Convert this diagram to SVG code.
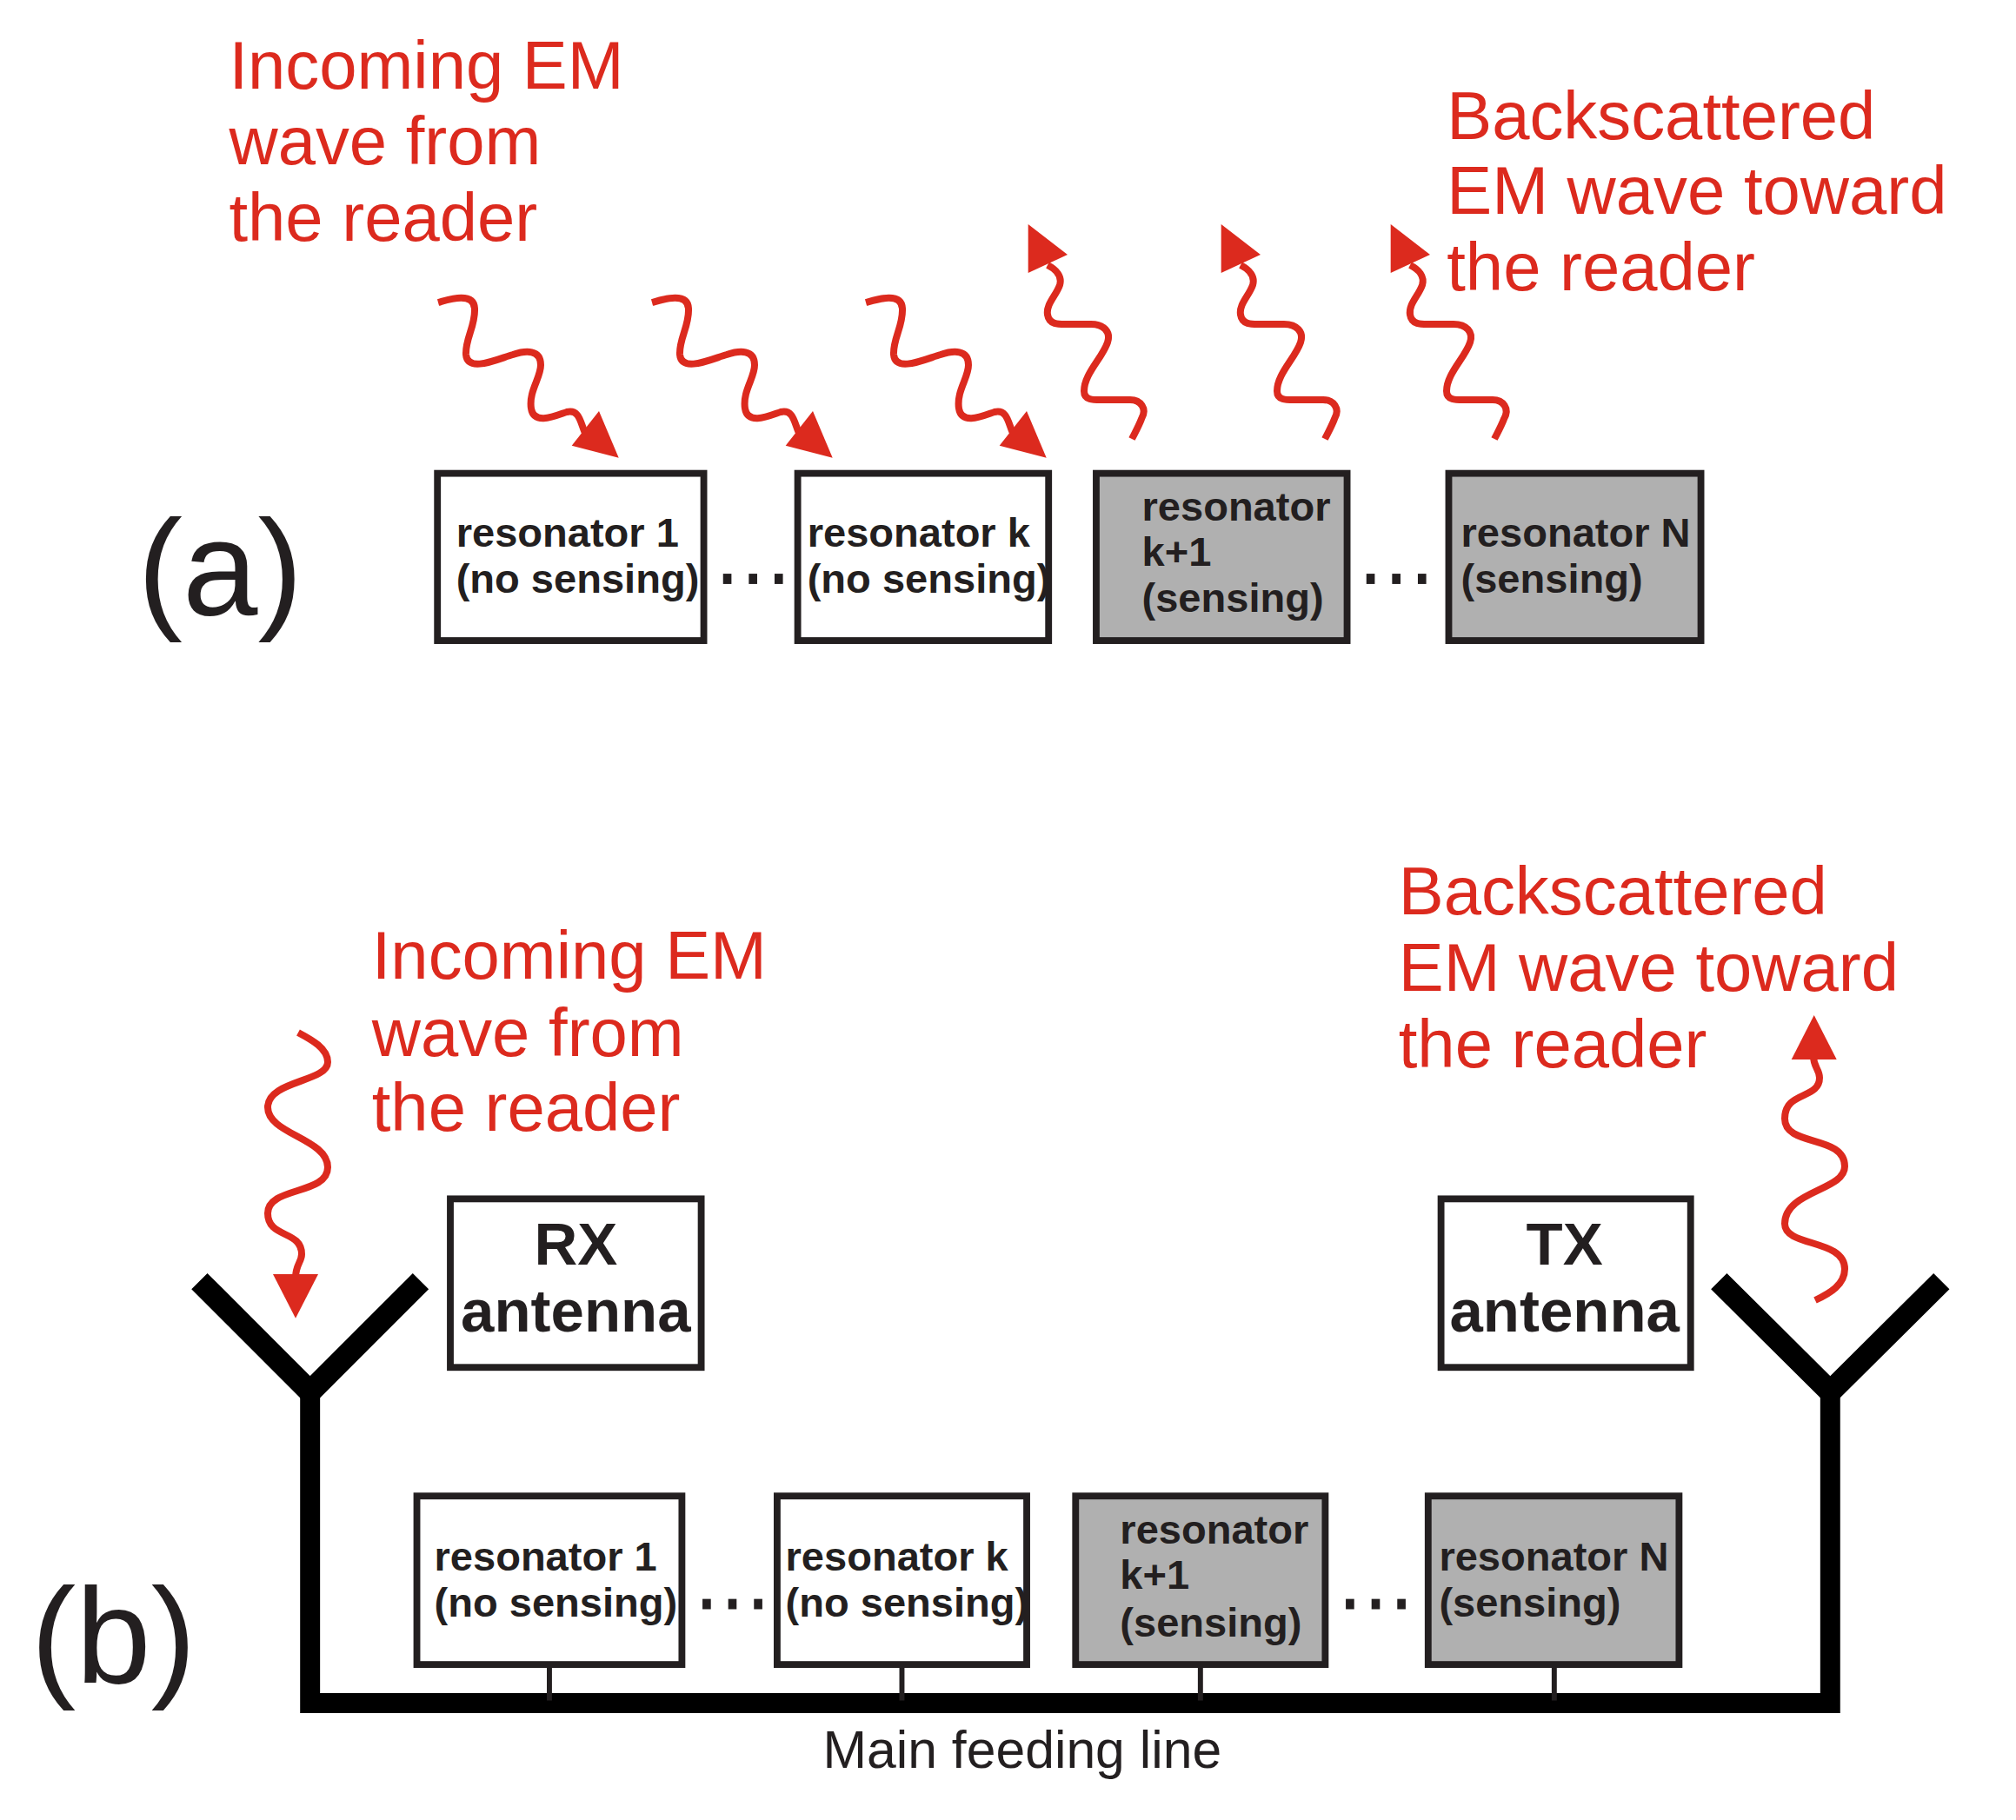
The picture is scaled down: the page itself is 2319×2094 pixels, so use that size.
<svg xmlns="http://www.w3.org/2000/svg" width="2319" height="2094" viewBox="0 0 2319 2094">
<style>
text{font-family:"Liberation Sans",Arial,sans-serif;fill:#231f20}
.red{fill:#dc2a1e;font-size:52.6px}
.r{font-weight:bold;font-size:31.8px}
.c{font-weight:bold;font-size:46.6px;text-anchor:middle}
.big{font-size:105px}
.w{fill:#fff;stroke:#231f20;stroke-width:5.3}
.g{fill:#b0b0b0;stroke:#231f20;stroke-width:5.3}
.wave{fill:none;stroke:#dc2a1e;stroke-width:8}
.head{fill:#dc2a1e;stroke:none}
.ant{fill:none;stroke:#000;stroke-width:15.5}
.arm{fill:none;stroke:#000;stroke-width:17.5}
.stub{stroke:#231f20;stroke-width:4}
.dot{fill:#231f20}
</style>
<defs>
<g id="in"><path class="wave" d="M504 348C515 345 545 335 546 355C547 375 535 390 536 408C538 430 575 412 590 408C605 403 622 402 622 420C622 435 608 450 611 470C614 490 640 478 652 474C668 470 668 490 674 500"/><polygon class="head" points="689,473 711.7,526.7 657.7,512.7"/></g>
<g id="out"><path class="wave" d="M1205 305C1215 310 1222 318 1219 328C1215 340 1203 350 1205 362C1207 375 1220 373 1232 373L1255 373C1270 373 1278 382 1274 394C1268 412 1247 430 1247 450C1247 462 1260 460 1275 460L1300 460C1312 460 1320 470 1313 482C1310 490 1306 497 1302 505"/><polygon class="head" points="1182.7,258 1228,293 1182.7,314"/></g>
<g id="dots"><rect class="dot" x="0" y="0" width="6.5" height="8"/><rect class="dot" x="20" y="0" width="6.5" height="8"/><rect class="dot" x="40" y="0" width="6.5" height="8"/></g>
</defs>
<rect width="2319" height="2094" fill="#fff"/>
<g id="connectors">
<use href="#in"/><use href="#in" x="246"/><use href="#in" x="492"/>
<use href="#out"/><use href="#out" x="222"/><use href="#out" x="417"/>
<path class="wave" d="M343 1188C358 1196 377 1206 377 1222C377 1245 308 1243 308 1274C308 1305 377 1310 377 1343C377 1375 308 1365 308 1396C308 1425 347 1415 347 1443C347 1452 340 1455 340 1470"/>
<polygon class="head" points="314,1466 366,1466 340,1516.7"/>
<path class="wave" d="M2088 1496C2105 1488 2122 1478 2122 1460C2122 1425 2053 1435 2053 1408C2053 1370 2122 1370 2122 1342C2122 1305 2053 1320 2053 1287C2053 1255 2093 1265 2093 1240C2093 1230 2086 1228 2086 1215"/>
<polygon class="head" points="2086.7,1168 2060.7,1219 2112.7,1219"/>
<g transform="scale(1.48)">
<path class="arm" d="M155 996L241 1082L327 996M1336 996L1422.5 1082L1509 996"/>
<path class="ant" d="M241 1082V1324H1422.5V1082"/>
<path class="stub" d="M427 1294V1322M701 1294V1322M933 1294V1322M1208 1294V1322"/>
</g>
</g>
<g transform="scale(1.48)">
<g id="label-a"><text class="big" x="107" y="478">(a)</text></g>
<g id="label-b"><text class="big" x="24" y="1308">(b)</text></g>
<g id="incoming-a"><text class="red" x="178" y="69">Incoming EM</text><text class="red" x="178" y="128">wave from</text><text class="red" x="178" y="187">the reader</text></g>
<g id="backscattered-a"><text class="red" x="1124.5" y="108">Backscattered</text><text class="red" x="1124.5" y="166">EM wave toward</text><text class="red" x="1124.5" y="226">the reader</text></g>
<g id="incoming-b"><text class="red" x="289" y="761">Incoming EM</text><text class="red" x="289" y="821">wave from</text><text class="red" x="289" y="879">the reader</text></g>
<g id="backscattered-b"><text class="red" x="1087" y="711">Backscattered</text><text class="red" x="1087" y="770">EM wave toward</text><text class="red" x="1087" y="830">the reader</text></g>
<g id="a-res1"><rect class="w" x="340" y="368" width="207" height="130"/><text class="r" x="354.5" y="425">resonator 1</text><text class="r" x="354.5" y="461">(no sensing)</text></g>
<use href="#dots" x="562" y="446"/>
<g id="a-resk"><rect class="w" x="620" y="368" width="195" height="130"/><text class="r" x="627.5" y="425">resonator k</text><text class="r" x="627.5" y="461">(no sensing)</text></g>
<g id="a-resk1"><rect class="g" x="852" y="368" width="195" height="130"/><text class="r" x="887.5" y="405">resonator</text><text class="r" x="887.5" y="440">k+1</text><text class="r" x="887.5" y="476">(sensing)</text></g>
<use href="#dots" x="1062" y="446"/>
<g id="a-resN"><rect class="g" x="1126" y="368" width="196" height="130"/><text class="r" x="1135.5" y="425">resonator N</text><text class="r" x="1135.5" y="461">(sensing)</text></g>
<g id="rx"><rect class="w" x="350" y="932" width="195" height="131"/><text class="c" x="447.5" y="983">RX</text><text class="c" x="447.5" y="1035">antenna</text></g>
<g id="tx"><rect class="w" x="1120" y="932" width="194" height="131"/><text class="c" x="1216" y="983">TX</text><text class="c" x="1216" y="1035">antenna</text></g>
<g id="b-res1"><rect class="w" x="324" y="1163" width="206" height="131"/><text class="r" x="337.5" y="1221">resonator 1</text><text class="r" x="337.5" y="1257">(no sensing)</text></g>
<use href="#dots" x="546" y="1243"/>
<g id="b-resk"><rect class="w" x="604" y="1163" width="194" height="131"/><text class="r" x="610.5" y="1221">resonator k</text><text class="r" x="610.5" y="1257">(no sensing)</text></g>
<g id="b-resk1"><rect class="g" x="836" y="1163" width="194" height="131"/><text class="r" x="870.5" y="1200">resonator</text><text class="r" x="870.5" y="1235">k+1</text><text class="r" x="870.5" y="1272">(sensing)</text></g>
<use href="#dots" x="1046" y="1243"/>
<g id="b-resN"><rect class="g" x="1110" y="1163" width="195" height="131"/><text class="r" x="1118.5" y="1221">resonator N</text><text class="r" x="1118.5" y="1257">(sensing)</text></g>
<g id="feed-label"><text x="639.5" y="1374" font-size="41">Main feeding line</text></g>
</g>
</svg>
